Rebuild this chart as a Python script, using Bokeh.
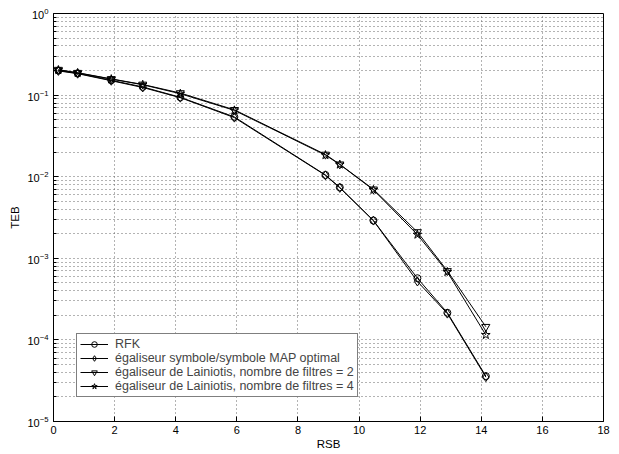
from bokeh.plotting import figure
from bokeh.models import FixedTicker, Legend, LegendItem, Range1d
from bokeh.embed import file_html
from bokeh.resources import INLINE

# ---- data ----
rsb = [0.16, 0.79, 1.89, 2.92, 4.15, 5.92, 8.90, 9.37, 10.47, 11.91, 12.89, 14.15]
teb_rfk = [0.200, 0.185, 0.152, 0.126, 0.094, 0.054, 0.0105, 0.0074, 0.0029, 0.00057, 0.000215, 0.000036]
teb_map = [0.198, 0.183, 0.150, 0.124, 0.093, 0.053, 0.0104, 0.0073, 0.0029, 0.00052, 0.00021, 0.000035]
teb_lain2 = [0.205, 0.188, 0.158, 0.135, 0.106, 0.066, 0.0187, 0.0142, 0.0070, 0.0021, 0.00070, 0.000145]
teb_lain4 = [0.203, 0.187, 0.157, 0.134, 0.104, 0.065, 0.0184, 0.0141, 0.0069, 0.00195, 0.00068, 0.000115]

labels = ["RFK",
          "égaliseur symbole/symbole MAP optimal",
          "égaliseur de Lainiotis, nombre de filtres = 2",
          "égaliseur de Lainiotis, nombre de filtres = 4"]
x_ticks = [0, 2, 4, 6, 8, 10, 12, 14, 16, 18]
y_decades = [-5, -4, -3, -2, -1, 0]

FONT = "Liberation Sans"

p = figure(width=619, height=454, y_axis_type="log",
           x_range=Range1d(0, 18), y_range=Range1d(1e-5, 1),
           output_backend="svg", toolbar_location=None,
           min_border_left=53, min_border_right=16,
           min_border_top=13, min_border_bottom=33)
p.background_fill_color = "white"
p.border_fill_color = "white"
p.outline_line_color = "black"
p.outline_line_width = 1

# axes
p.xaxis.ticker = FixedTicker(ticks=x_ticks)
y_major = [10.0 ** d for d in y_decades]
y_minor = [k * 10.0 ** d for d in y_decades[:-1] for k in range(2, 10)]
p.yaxis.ticker = FixedTicker(ticks=y_major, minor_ticks=y_minor)
for ax in (p.xaxis, p.yaxis):
    ax.axis_line_color = "black"
    ax.major_tick_line_color = "black"
    ax.minor_tick_line_color = "black"
    ax.major_tick_in = 5
    ax.major_tick_out = 0
    ax.minor_tick_in = 3
    ax.minor_tick_out = 0
    ax.major_label_text_font = FONT
    ax.major_label_text_font_size = "11px"
    ax.major_label_text_color = "black"
    ax.axis_label_text_font = FONT
    ax.axis_label_text_font_size = "11.5px"
    ax.axis_label_text_font_style = "normal"
    ax.axis_label_text_color = "black"
p.xaxis.axis_label = "RSB"
p.yaxis.axis_label = "TEB"
p.xaxis.major_label_standoff = 4
p.xaxis.axis_label_standoff = 1
p.yaxis.major_label_standoff = 5
p.yaxis.axis_label_standoff = 3

# grid
for g in (p.xgrid, p.ygrid):
    g.grid_line_color = "#666666"
    g.grid_line_dash = "1 3"
p.ygrid.minor_grid_line_color = "#666666"
p.ygrid.minor_grid_line_dash = "1 3"

series = [
    (teb_rfk, "circle", 7),
    (teb_map, "diamond", 9),
    (teb_lain2, "inverted_triangle", 8),
    (teb_lain4, "star", 9),
]
items = []
for (ys, marker, size), lab in zip(series, labels):
    r1 = p.line(rsb, ys, line_color="black", line_width=1)
    r2 = p.scatter(rsb, ys, marker=marker, size=size, line_color="black",
                   fill_color=None, line_width=1)
    items.append(LegendItem(label=lab, renderers=[r1, r2]))

legend = Legend(items=items, location=(23, 24))
legend.label_text_font = FONT
legend.label_text_font_size = "12.5px"
legend.label_height = 14
legend.glyph_height = 14
legend.glyph_width = 28
legend.label_standoff = 7
legend.spacing = 0
legend.padding = 3
legend.margin = 0
legend.border_line_color = "black"
legend.border_line_width = 1
legend.background_fill_color = "white"
legend.background_fill_alpha = 1.0
p.add_layout(legend, "center")

open("out.html", "w").write(file_html(p, INLINE))
